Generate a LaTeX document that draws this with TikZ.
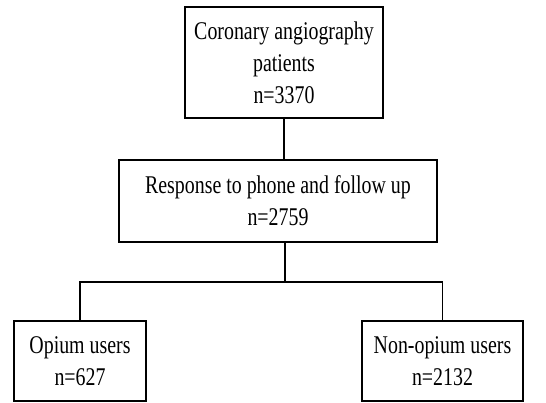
\documentclass[tikz,border=0pt]{standalone}
\usepackage{fontspec}
\setmainfont{Liberation Serif}[FakeStretch=0.78]
\usetikzlibrary{positioning}

\tikzset{
  box/.style={rectangle, draw, line width=1.4pt, align=center, inner sep=0pt,
    font=\fontsize{25.5}{32}\selectfont},
  link/.style={line width=1.4pt}
}

\begin{document}
\begin{tikzpicture}[x=1pt, y=1pt]

\useasboundingbox (0, 0) rectangle (546, -403);

\node[box, minimum width=198pt, minimum height=111pt] (patients) at (284, -62.5) {Coronary angiography\\patients\\n=3370};
\node[box, minimum width=318pt, minimum height=82pt] (response) at (278, -201) {Response to phone and follow up\\n=2759};
\node[box, minimum width=132pt, minimum height=80pt] (opium) at (80, -361) {Opium users\\n=627};
\node[box, minimum width=161pt, minimum height=80pt] (nonopium) at (442.5, -361) {Non-opium users\\n=2132};

\coordinate (split) at (285, -282);

\draw[link] (patients.south) -- (patients.south |- response.north);
\draw[link] (response.south -| split) -- (split);
\draw[link] (opium.north) |- (split) -| (nonopium.north);

\end{tikzpicture}
\end{document}
